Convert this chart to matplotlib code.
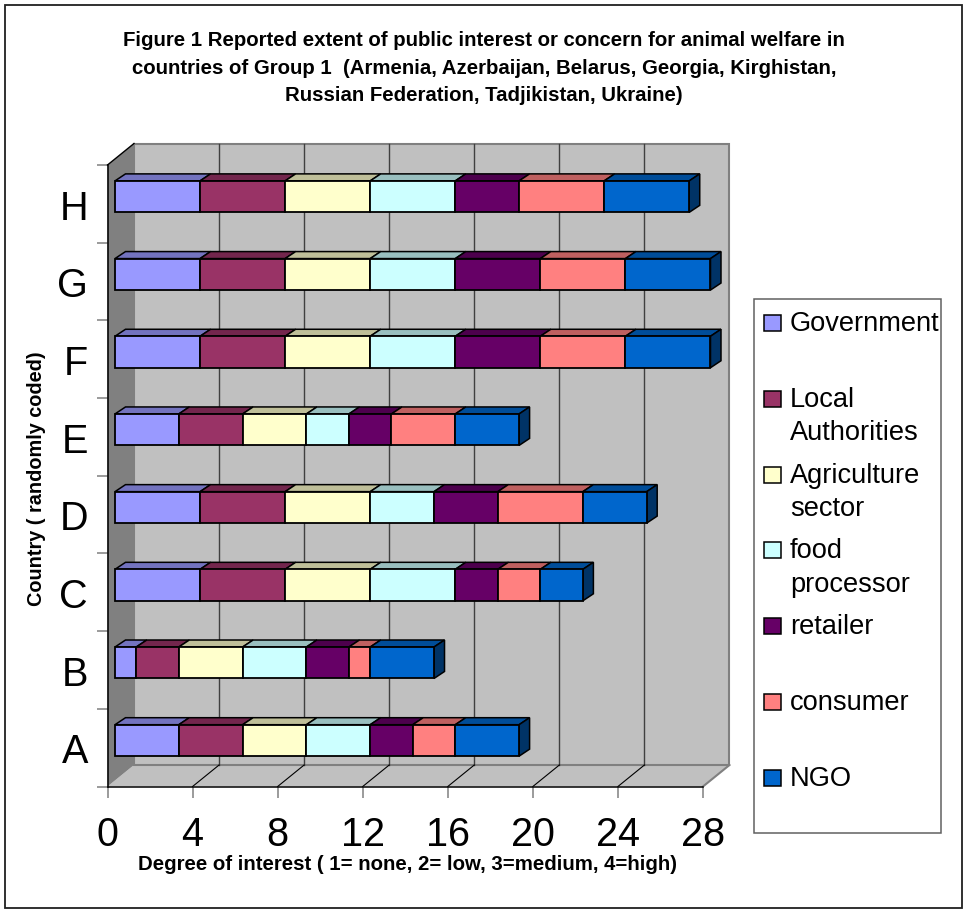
import matplotlib
matplotlib.use('Agg')
import matplotlib.pyplot as plt
from matplotlib.colors import to_rgb
from matplotlib.patches import Polygon, Rectangle

countries = ['A', 'B', 'C', 'D', 'E', 'F', 'G', 'H']
government = [3, 1, 4, 4, 3, 4, 4, 4]
local_auth = [3, 2, 4, 4, 3, 4, 4, 4]
agriculture = [3, 3, 4, 4, 3, 4, 4, 4]
food_proc = [3, 3, 4, 3, 2, 4, 4, 4]
retailer = [2, 2, 2, 3, 2, 4, 4, 3]
consumer = [2, 1, 2, 4, 3, 4, 4, 4]
ngo = [3, 3, 2, 3, 3, 4, 4, 4]

series = [government, local_auth, agriculture, food_proc, retailer, consumer, ngo]
series_names = ['Government', 'Local\nAuthorities', 'Agriculture\nsector',
                'food\nprocessor', 'retailer', 'consumer', 'NGO']
colors = ['#9999FF', '#993366', '#FFFFCC', '#CCFFFF', '#660066', '#FF8080', '#0066CC']
x_ticks = list(range(0, 29, 4))

W, H = 966, 910
plt.rcParams['font.family'] = ['Liberation Sans', 'DejaVu Sans']

fig = plt.figure(figsize=(W / 100, H / 100), dpi=100)


def fx(px):
    return px / W


def fy(py):
    return 1 - py / H


# axes sit on the front plane of the 3D box
ax = fig.add_axes([fx(107.5), fy(786.5), (703 - 107.5) / W, (786.5 - 165) / H])
ax.set_xlim(0, 28)
ax.set_ylim(0, 8)
ax.patch.set_visible(False)

# box depth and bar placement in data units
wall_dx, wall_dy = 26.5 / 21.27, 21.5 / 77.69
bar_off = 7.5 / 21.27
bar_dx, bar_dy = 10.5 / 21.27, 7 / 77.69
bar_h = 0.405
bar_c = 0.593


def shade(c, f):
    r, g, b = to_rgb(c)
    return (r * f, g * f, b * f)


# walls and floor
ax.add_patch(Polygon([(0, 0), (wall_dx, wall_dy), (28 + wall_dx, wall_dy), (28, 0)],
                     fc='#C0C0C0', ec='none', clip_on=False, zorder=1))
ax.add_patch(Rectangle((wall_dx, wall_dy), 28, 8, fc='#C0C0C0', ec='#808080', lw=1.5,
                       clip_on=False, zorder=1))
ax.add_patch(Polygon([(0, 0), (wall_dx, wall_dy), (wall_dx, 8 + wall_dy), (0, 8)],
                     fc='#808080', ec='none', clip_on=False, zorder=1))
ax.plot([0, wall_dx], [8, 8 + wall_dy], color='black', lw=1, clip_on=False, zorder=2)
ax.plot([28, 28 + wall_dx], [0, wall_dy], color='#808080', lw=1.5, clip_on=False, zorder=2)

# gridlines along the back wall and across the floor
for t in x_ticks[1:-1]:
    ax.plot([t + wall_dx] * 2, [wall_dy, 8 + wall_dy], color='#404040', lw=1,
            clip_on=False, zorder=2)
    ax.plot([t, t + wall_dx], [0, wall_dy], color='black', lw=0.8, clip_on=False, zorder=2)

# stacked bars, front faces through barh, top and end faces as polygons
for i in range(len(countries)):
    yc = i + bar_c
    left = 0
    for j, vals in enumerate(series):
        v = vals[i]
        x0 = left + bar_off
        x1 = x0 + v
        ytop = yc + bar_h / 2
        ybot = yc - bar_h / 2
        ax.add_patch(Polygon([(x0, ytop), (x0 + bar_dx, ytop + bar_dy),
                              (x1 + bar_dx, ytop + bar_dy), (x1, ytop)],
                             fc=shade(colors[j], 0.75), ec='black', lw=1.1,
                             clip_on=False, zorder=3))
        ax.barh(yc, v, left=x0, height=bar_h, color=colors[j], edgecolor='black',
                linewidth=1.3, clip_on=False, zorder=4)
        left += v
        if j == len(series) - 1:
            ax.add_patch(Polygon([(x1, ybot), (x1 + bar_dx, ybot + bar_dy),
                                  (x1 + bar_dx, ytop + bar_dy), (x1, ytop)],
                                 fc=shade(colors[j], 0.5), ec='black', lw=1.1,
                                 clip_on=False, zorder=3))

# axes lines and ticks
for s in ['top', 'right']:
    ax.spines[s].set_visible(False)
ax.spines['left'].set_linewidth(1.1)
ax.spines['bottom'].set_linewidth(1.1)
ax.spines['left'].set_zorder(2.5)
ax.spines['bottom'].set_zorder(2.5)

ax.set_xticks(x_ticks)
ax.set_xticklabels([str(t) for t in x_ticks])
ax.set_yticks(range(0, 9))
ax.set_yticklabels([])
ax.set_yticks([i + 0.49 for i in range(len(countries))], minor=True)
ax.set_yticklabels(countries, minor=True)
ax.tick_params(axis='x', which='major', length=7.9, width=1.1, color='#808080',
               labelsize=28.5, pad=13)
ax.tick_params(axis='y', which='major', length=7.9, width=1.1, color='#808080')
ax.tick_params(axis='y', which='minor', length=0, labelsize=28.5, pad=14)

# outer frame
fig.add_artist(Rectangle((fx(5), fy(908)), fx(957), 903 / H, transform=fig.transFigure,
                         fc='none', ec='#202020', lw=1.3))

# titles
fig.text(fx(484), fy(68), 'Figure 1 Reported extent of public interest or concern for animal welfare in\n'
         'countries of Group 1  (Armenia, Azerbaijan, Belarus, Georgia, Kirghistan,\n'
         'Russian Federation, Tadjikistan, Ukraine)',
         ha='center', va='center', fontsize=14.7, fontweight='bold', linespacing=1.57, multialignment='center')
fig.text(fx(407.5), fy(864), 'Degree of interest ( 1= none, 2= low, 3=medium, 4=high)',
         ha='center', va='center', fontsize=14.7, fontweight='bold')
fig.text(fx(37), fy(479), 'Country ( randomly coded)', ha='center', va='center',
         rotation=90, fontsize=14.3, fontweight='bold')

# legend box
fig.add_artist(Rectangle((fx(754), fy(833)), 187 / W, (833 - 298.5) / H,
                         transform=fig.transFigure, fc='white', ec='#606060', lw=1.1))
for k, name in enumerate(series_names):
    yc = 323 + 75.8 * k
    fig.add_artist(Rectangle((fx(764), fy(yc + 8)), 17 / W, 16 / H, transform=fig.transFigure,
                             fc=colors[k], ec='black', lw=1.1))
    # the first line of each label stays level with its swatch
    fig.text(fx(790), fy(yc - 12), name, ha='left', va='top', fontsize=19.6, linespacing=1.38)

fig.savefig('out.png', dpi=100)
